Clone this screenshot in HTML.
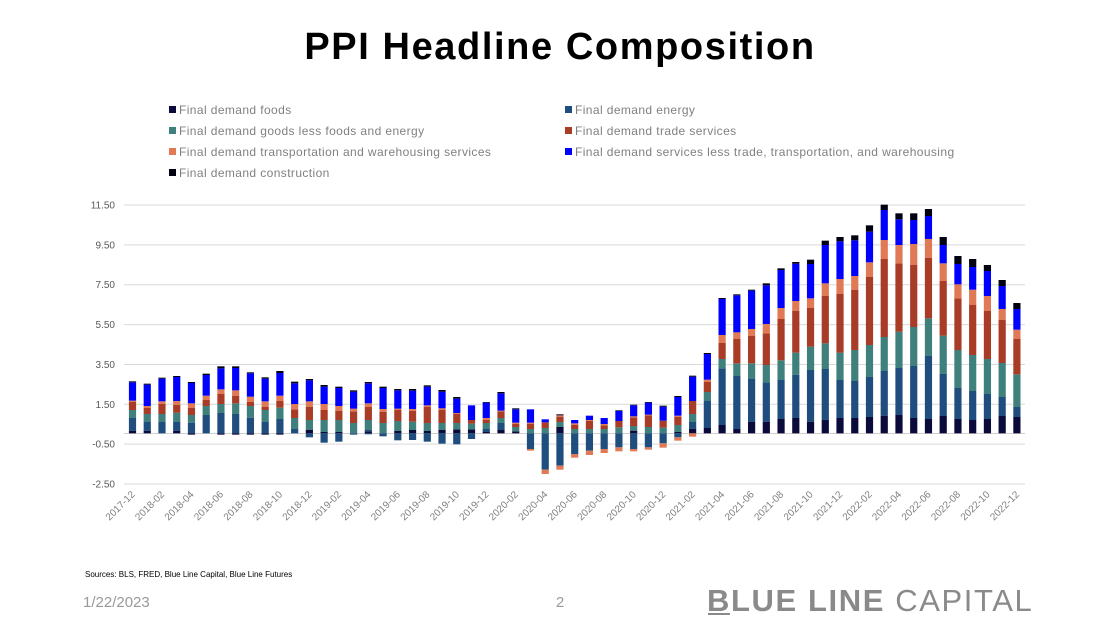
<!DOCTYPE html>
<html><head><meta charset="utf-8"><style>
body{margin:0;background:#fff;width:1120px;height:630px;overflow:hidden;font-family:"Liberation Sans",sans-serif}
svg{position:absolute;left:0;top:0}
</style></head><body>
<svg id="s" width="1120" height="630" xmlns="http://www.w3.org/2000/svg" font-family="Liberation Sans, sans-serif">
<text x="560" y="59" text-anchor="middle" font-size="38" font-weight="bold" fill="#000" letter-spacing="1.6">PPI Headline Composition</text>
<g font-size="12" fill="#808080" letter-spacing="0.4">
<rect x="169" y="106" width="7" height="7" fill="#0b0b3b"/><text x="179" y="114">Final demand foods</text>
<rect x="169" y="127" width="7" height="7" fill="#3f7f7c"/><text x="179" y="135">Final demand goods less foods and energy</text>
<rect x="169" y="148" width="7" height="7" fill="#e07a56"/><text x="179" y="156">Final demand transportation and warehousing services</text>
<rect x="169" y="169" width="7" height="7" fill="#000010"/><text x="179" y="177">Final demand construction</text>
<rect x="565" y="106" width="7" height="7" fill="#1f4e7e"/><text x="575" y="114">Final demand energy</text>
<rect x="565" y="127" width="7" height="7" fill="#a93c26"/><text x="575" y="135">Final demand trade services</text>
<rect x="565" y="148" width="7" height="7" fill="#0000ff"/><text x="575" y="156">Final demand services less trade, transportation, and warehousing</text>
</g>
<g id="grid"></g>
<g id="bars"></g>
<g id="xl" font-size="10" fill="#808080"></g>
<text x="85" y="577" font-size="8" fill="#000">Sources: BLS, FRED, Blue Line Capital,  Blue Line Futures</text>
<text x="83" y="607" font-size="15" fill="#999">1/22/2023</text>
<text x="560" y="607" font-size="15" fill="#999" text-anchor="middle">2</text>
<text x="707" y="611" font-size="31" fill="#8a8a8a" letter-spacing="1.6"><tspan font-weight="bold">BLUE LINE</tspan> CAPITAL</text>
<rect x="708" y="613" width="22" height="2" fill="#8a8a8a"/>
</svg>
<script>
var NS="http://www.w3.org/2000/svg";
function el(p,t,a,txt){var e=document.createElementNS(NS,t);for(var k in a)e.setAttribute(k,a[k]);if(txt)e.textContent=txt;p.appendChild(e);return e;}
var g=document.getElementById('grid');
var labs=["11.50","9.50","7.50","5.50","3.50","1.50","-0.50","-2.50"];
for(var i=0;i<8;i++){var y=205+i*39.86;
el(g,'line',{x1:124,x2:1025,y1:y,y2:y,stroke:'#d9d9d9','stroke-width':1});
el(g,'text',{x:115,y:y+3.5,'font-size':10,fill:'#595959','text-anchor':'end'},labs[i]);}
el(g,'line',{x1:124,x2:1025,y1:433.5,y2:433.5,stroke:'#d0d0d0','stroke-width':1});
var C=['#0b0b3b','#1f4e7e','#3f7f7c','#a93c26','#e07a56','#0000ff','#000010'];
var P=[[722,684,660,636,632,577,574],[722,696,672,654,648,584,581],[730,696,672,642,634,566,563],[722,696,668,645,633,561,558],[730,698,675,654,640,579,576],[730,675,648,630,617,555,551],[730,669,642,612,598,535,529],[730,672,640,617,601,534,529],[730,683,648,636,620,550,547],[730,696,660,651,634,566,562],[730,687,653,633,617,549,543],[730,717,684,658,642,580,575],[720,720,690,651,634,571,567],[726,726,690,660,642,590,585],[726,726,690,662,648,594,590],[730,730,699,664,656,605,601],[724,720,690,651,640,580,576],[730,730,699,665,657,594,590],[723,723,693,660,656,601,597],[720,720,695,662,657,602,597],[723,723,699,651,646,590,586],[720,720,699,660,655,605,600],[718,718,699,671,669,626,621],[718,718,701,690,690,646,646],[726,717,699,690,684,638,636],[720,699,684,664,662,610,606],[724,724,711,702,698,658,655],[730,730,717,701,698,658,658],[730,730,714,697,697,688,688],[711,711,696,680,676,676,673],[730,730,717,704,700,690,690],[730,730,717,693,690,677,677],[730,730,717,706,702,684,684],[730,730,712,693,693,663,661],[722,722,708,682,679,646,644],[730,730,711,676,674,638,636],[730,730,713,692,692,650,647],[726,726,705,680,677,621,618],[716,696,672,633,633,560,557],[714,633,606,576,569,492,489],[705,535,507,459,435,327,324],[717,558,520,446,427,316,313],[695,567,520,438,417,302,299],[695,577,525,430,402,286,280],[687,570,511,387,354,240,235],[684,554,488,362,333,221,216],[695,540,470,354,325,222,209],[689,537,460,318,280,165,152],[684,570,488,312,267,154,141],[684,573,480,299,258,151,136],[681,561,465,261,217,125,106],[677,543,441,207,150,60,44],[675,534,425,220,165,88,70],[684,528,411,225,162,90,70],[687,498,385,204,147,78,57],[678,551,437,273,220,165,141],[687,594,480,325,283,222,198],[690,603,495,344,299,231,207],[687,612,507,362,318,243,225],[678,621,519,390,357,288,270],[681,651,553,447,419,357,339]];
var N={4:[[0,734]],6:[[0,734]],7:[[0,734]],8:[[0,734]],9:[[0,734]],10:[[0,734]],12:[[1,742]],13:[[1,758]],14:[[1,755]],15:[[1,734]],16:[[1,733]],17:[[1,739]],18:[[1,751]],19:[[1,750]],20:[[1,755]],21:[[1,761]],22:[[1,763]],23:[[1,747]],27:[[1,777],[4,782]],28:[[1,839],[4,852]],29:[[1,827],[4,839]],30:[[1,792],[4,803]],31:[[1,782],[4,795]],32:[[1,777],[4,789]],33:[[1,772],[4,784]],34:[[1,777],[4,784]],35:[[1,772],[4,779]],36:[[1,760],[4,773]],37:[[1,742],[4,752]],38:[[4,740]]};
var b=document.getElementById('bars'),xl=document.getElementById('xl');
function Y(z){return 190+z/3;}
for(var i=0;i<61;i++){var cx=132.5+i*14.74,x=cx-3.6,prev=730;
for(var k=0;k<7;k++){var t=P[i][k];if(t<prev){el(b,'rect',{x:x,y:Y(t),width:7.2,height:Y(prev)-Y(t),fill:C[k]});}prev=t;}
if(N[i]){prev=730;N[i].forEach(function(s){el(b,'rect',{x:x,y:Y(prev),width:7.2,height:Y(s[1])-Y(prev),fill:C[s[0]]});prev=s[1];});}
if(i%2==0){var m=11+i,yr=2017+Math.floor(m/12),mo=m%12+1;var lab=yr+'-'+(mo<10?'0':'')+mo;
el(xl,'text',{x:cx+3,y:495,'text-anchor':'end',transform:'rotate(-45 '+(cx+3)+' 495)'},lab);}
}
</script>
</body></html>
